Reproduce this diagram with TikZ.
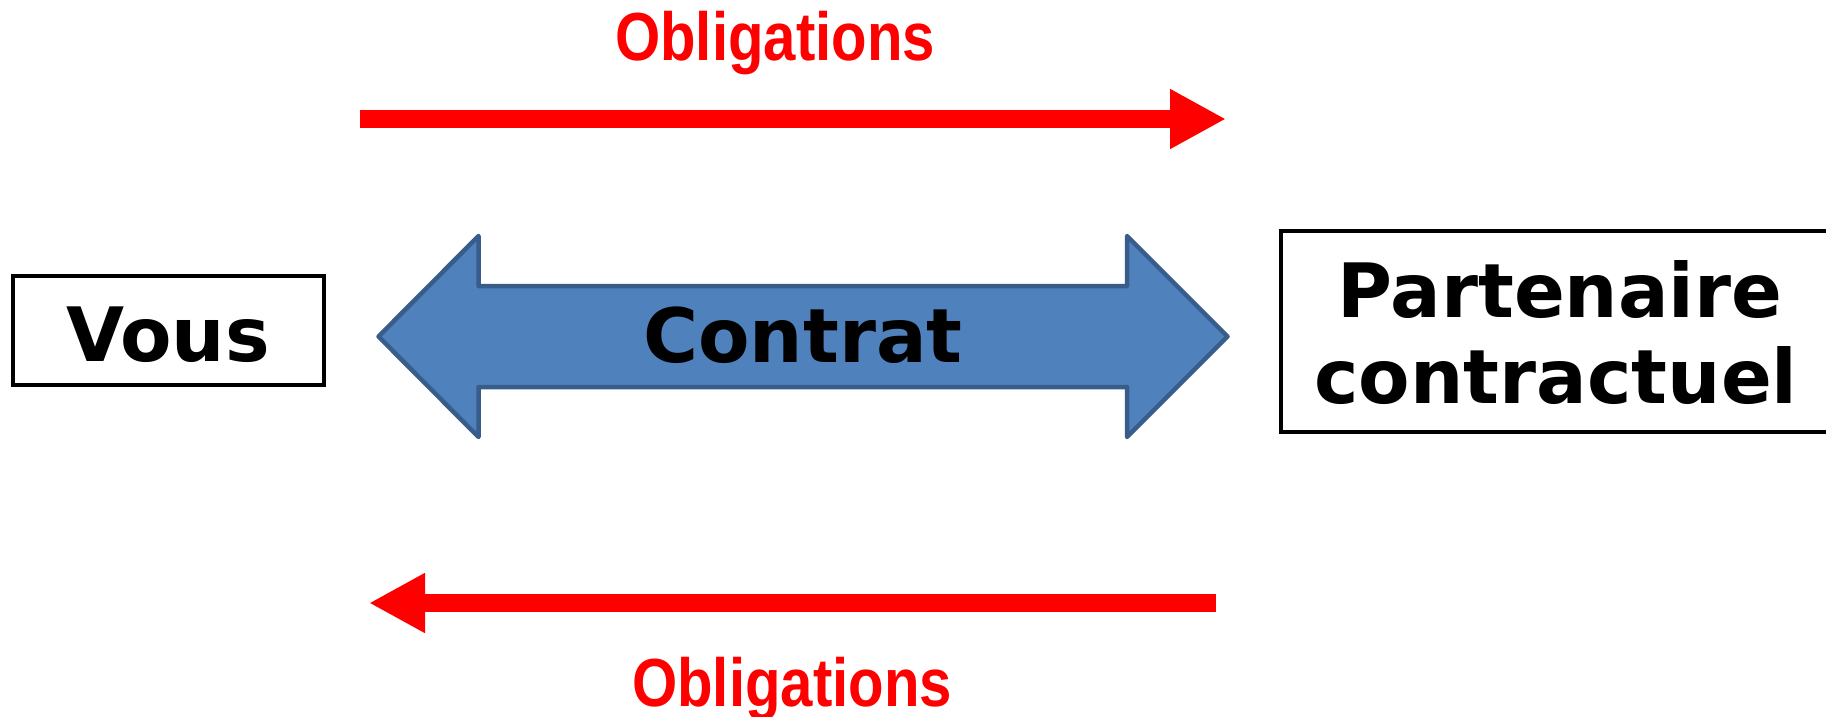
\documentclass[tikz,border=0pt]{standalone}
\usepackage{fontspec}
\setmainfont{DejaVu Sans}
\newfontfamily\arialfont{Liberation Sans}
\usetikzlibrary{arrows.meta}
\definecolor{obred}{RGB}{255,0,0}
\definecolor{arrfill}{HTML}{4F81BD}
\definecolor{arrline}{HTML}{385D8A}
\tikzset{
  redarrow/.style={draw=obred, line width=18.5pt, -{Triangle[length=56pt,width=56pt]}},
  oblabel/.style={anchor=base, inner sep=0pt, text=obred, font=\arialfont\bfseries\fontsize{68}{72}\selectfont},
  bigtext/.style={anchor=base, inner sep=0pt, font=\bfseries\fontsize{75}{80}\selectfont},
  partybox/.style={draw=black, line width=4pt, fill=white},
  contratshape/.style={draw=arrline, fill=arrfill, line width=4.5pt, line join=round}
}
\begin{document}
\begin{tikzpicture}[x=1pt,y=-1pt]
\useasboundingbox (0,0) rectangle (1826,717);
\clip (0,0) rectangle (1826,717);
\fill[white] (0,0) rectangle (1826,717);

% party boxes
\draw[partybox] (12.5,275.5) rectangle (324,385) coordinate (vousbr);
\node[inner sep=0pt, minimum width=311.5pt, minimum height=109.5pt] (vous) at (168.25,330.25) {};
\node[bigtext] (voustext) at (168,361) {Vous};

\draw[partybox] (1281,230.5) rectangle (1839,432);
\node[inner sep=0pt, minimum width=558pt, minimum height=201.5pt] (partner) at (1560,331.25) {};
\node[bigtext] (partnerA) at (1560,317) {Partenaire};
\node[bigtext] (partnerB) at (1556,403) {contractuel};

% contract double arrow
\coordinate (cl) at (378.5,336.5);
\coordinate (cr) at (1227.5,336.5);
\draw[contratshape] (cl) -- (478.5,236) -- (478.5,286) -- (1127,286) -- (1127,236)
  -- (cr) -- (1127,437) -- (1127,387) -- (478.5,387) -- (478.5,437) -- cycle;
\node[bigtext] (contrat) at (803,362) {Contrat};

% obligations arrows
\coordinate (topstart) at (360,119);
\coordinate (topend) at (1226,119);
\draw[redarrow] (topstart) -- (topend);
\node[oblabel] (obtop) at (775,60) {\scalebox{0.855}[1]{Obligations}};

\coordinate (botstart) at (1216,603);
\coordinate (botend) at (369,603);
\draw[redarrow] (botstart) -- (botend);
\node[oblabel] (obbot) at (792,706) {\scalebox{0.855}[1]{Obligations}};
\end{tikzpicture}
\end{document}
